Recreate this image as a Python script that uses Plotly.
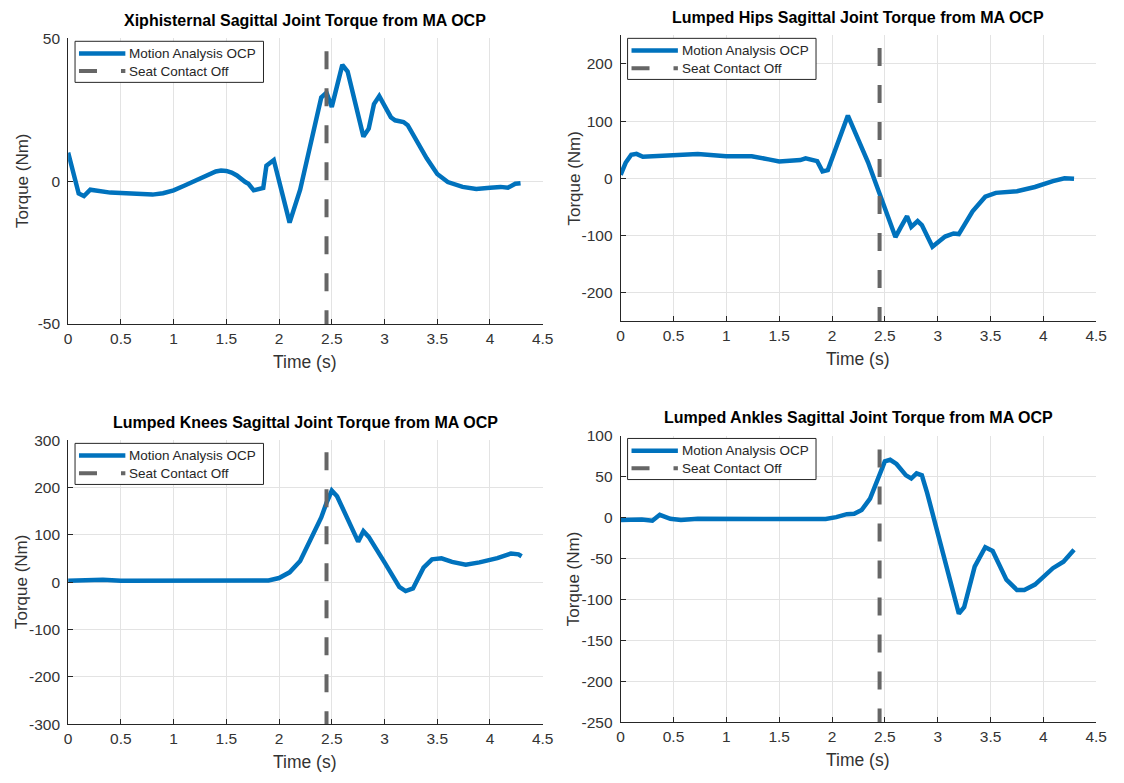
import plotly.graph_objects as go

# ---- time series (s, Nm) ----
t_xiph = [0, 0.1, 0.15, 0.21, 0.4, 0.6, 0.8, 0.9, 1.0, 1.1, 1.2, 1.3, 1.4, 1.45, 1.5, 1.55, 1.6, 1.68,
          1.71, 1.76, 1.85, 1.88, 1.95, 2.1, 2.2, 2.4, 2.45, 2.5, 2.6, 2.65, 2.8, 2.85, 2.9, 2.95,
          3.06, 3.1, 3.18, 3.22, 3.33, 3.4, 3.5, 3.6, 3.74, 3.87, 4.0, 4.1, 4.17, 4.24, 4.29]
tau_xiph = [10, -4.3, -5.2, -3, -4, -4.5, -4.7, -4.2, -3.2, -1.6, 0.2, 1.9, 3.4, 3.7, 3.6, 3, 2, -0.3,
            -0.9, -3.2, -2.4, 5.4, 7.4, -14.5, -3, 29.3, 31, 26, 40.7, 38.4, 15.6, 18.4, 27, 29.8,
            22.4, 21.3, 20.7, 19.6, 12.2, 8, 2.5, -0.3, -2, -2.7, -2.3, -2, -2.3, -0.9, -0.7]

t_hip = [0, 0.047, 0.1, 0.15, 0.21, 0.4, 0.73, 1.0, 1.24, 1.4, 1.5, 1.7, 1.75, 1.86, 1.91, 1.96,
         2.15, 2.34, 2.45, 2.6, 2.65, 2.71, 2.75, 2.81, 2.85, 2.95, 3.07, 3.15, 3.2, 3.33, 3.45,
         3.55, 3.75, 3.92, 4.09, 4.2, 4.29]
tau_hip = [6, 27, 41, 42.6, 37.5, 40, 42.6, 38.6, 38.6, 33, 29.5, 31.8, 34.7, 30, 12, 14.2,
           109.7, 28.4, -29.5, -103, -86, -66.5, -85, -75, -82, -120, -102, -96.6, -97.7, -58, -32.4,
           -25.6, -22.7, -15.3, -5, 0, -1]

t_knee = [0, 0.33, 0.5, 1.4, 1.9, 2.0, 2.1, 2.2, 2.3, 2.4, 2.45, 2.5, 2.55, 2.65, 2.75, 2.8, 2.85,
          3.0, 3.14, 3.2, 3.27, 3.37, 3.45, 3.54, 3.64, 3.77, 3.9, 4.07, 4.2, 4.27, 4.3]
tau_knee = [3.4, 5.5, 3.4, 3.4, 4, 9, 21, 45, 90, 137, 168, 194, 182, 134, 86, 108, 96,
            42, -10, -18.5, -13, 31, 48.6, 50.6, 43, 37, 42, 51, 61, 59, 55]

t_ank = [0, 0.2, 0.3, 0.37, 0.47, 0.57, 0.73, 1.4, 1.94, 2.04, 2.14, 2.21, 2.28, 2.36, 2.43, 2.5,
         2.55, 2.61, 2.7, 2.75, 2.8, 2.85, 2.9, 3.0, 3.2, 3.25, 3.35, 3.45, 3.52, 3.65, 3.75,
         3.82, 3.92, 4.09, 4.19, 4.29]
tau_ank = [-3.2, -2.4, -4, 3.2, -1.6, -3.2, -1.6, -2.4, -2, 0.4, 4, 4.4, 9, 23, 44.7, 68.4,
           70.4, 65.3, 51.4, 47.5, 53.8, 51.4, 30, -18, -117.5, -109.6, -60, -36.4, -41, -76, -88.6,
           -88.6, -82, -62, -54, -39.6]

seat_off_time = 2.45

titles = ["Xiphisternal Sagittal Joint Torque from MA OCP",
          "Lumped Hips Sagittal Joint Torque from MA OCP",
          "Lumped Knees Sagittal Joint Torque from MA OCP",
          "Lumped Ankles Sagittal Joint Torque from MA OCP"]
legend_labels = ["Motion Analysis OCP", "Seat Contact Off"]

y_limits = [(-50, 50), (-250, 250), (-300, 300), (-250, 100)]
seat_line_top = [45.5, 228, 275, 83]
y_tickvals = [[-50, 0, 50],
              [-200, -100, 0, 100, 200],
              [-300, -200, -100, 0, 100, 200, 300],
              [-250, -200, -150, -100, -50, 0, 50, 100]]
y_ticktext = [["-50", "0", "50"],
              ["-200", "-100", "0", "100", "200"],
              ["-300", "-200", "-100", "0", "100", "200", "300"],
              ["-250", "-200", "-150", "-100", "-50", "0", "50", "100"]]
x_tickvals = [0, 0.5, 1, 1.5, 2, 2.5, 3, 3.5, 4, 4.5]
x_ticktext = ["0", "0.5", "1", "1.5", "2", "2.5", "3", "3.5", "4", "4.5"]

series = [(t_xiph, tau_xiph), (t_hip, tau_hip), (t_knee, tau_knee), (t_ank, tau_ank)]

W, H = 1124, 783
FONT = "Liberation Sans, Arial, Helvetica, sans-serif"
BLUE = "#0072BD"
GREY = "#666666"
AX = "#262626"
TXT = "#333333"
SEAT_DASH = "18px,19px"

# plot areas in pixels: (left, right, top, bottom)
boxes = [(65, 546, 30, 322), (625, 1107, 27, 319), (65, 546, 441, 731), (625, 1107, 436, 729)]
# legend box offset from the plot corner and its size, in pixels
LEG_DX, LEG_DY, LEG_W, LEG_H = 7, 3, 191, 42


def px(x):
    return x / W


def py(y):
    return 1 - y / H


fig = go.Figure()
layout = dict(width=W, height=H, margin=dict(l=0, r=0, t=0, b=0),
              paper_bgcolor="white", plot_bgcolor="white", showlegend=False,
              font=dict(family=FONT, color=TXT), annotations=[], shapes=[])

for i, ((t, tau), (l, r, tp, bt)) in enumerate(zip(series, boxes)):
    n = "" if i == 0 else str(i + 1)
    fig.add_trace(go.Scatter(x=t, y=tau, mode="lines", name=legend_labels[0],
                             line=dict(color=BLUE, width=4.5), xaxis="x" + n, yaxis="y" + n))
    fig.add_trace(go.Scatter(x=[seat_off_time, seat_off_time], y=[seat_line_top[i], y_limits[i][0]],
                             mode="lines", name=legend_labels[1],
                             line=dict(color=GREY, width=4, dash=SEAT_DASH),
                             xaxis="x" + n, yaxis="y" + n))
    common = dict(showgrid=True, gridcolor="#e3e3e3", gridwidth=1, zeroline=False,
                  showline=True, linecolor=AX, linewidth=1, ticks="inside", ticklen=5,
                  tickcolor=AX, tickfont=dict(family=FONT, size=15.5, color=TXT))
    layout["xaxis" + n] = dict(domain=[px(l), px(r)], range=[0, 4.5], anchor="y" + n,
                               tickvals=x_tickvals, ticktext=x_ticktext, **common)
    layout["yaxis" + n] = dict(domain=[py(bt), py(tp)], range=list(y_limits[i]),
                               anchor="x" + n, tickvals=y_tickvals[i], ticktext=y_ticktext[i],
                               ticklabelstandoff=4, **common)
    cx = (l + r) / 2
    layout["annotations"] += [
        dict(text="<b>" + titles[i] + "</b>", x=px(cx), y=py(tp - 18), xref="paper",
             yref="paper", xanchor="center", yanchor="middle", showarrow=False,
             font=dict(family=FONT, size=16, color="black")),
        dict(text="Time (s)", x=px(cx), y=py(bt + 39), xref="paper", yref="paper",
             xanchor="center", yanchor="middle", showarrow=False,
             font=dict(family=FONT, size=17.5, color=TXT)),
        dict(text="Torque (Nm)", x=px(l - 47), y=py((tp + bt) / 2), xref="paper",
             yref="paper", xanchor="center", yanchor="middle", showarrow=False, textangle=-90,
             font=dict(family=FONT, size=17, color=TXT)),
    ]

    # legend box with its two entries
    lx0, ly0 = l + LEG_DX, tp + LEG_DY
    rows = [ly0 + 12.5, ly0 + 30.5]
    layout["shapes"] += [
        dict(type="rect", xref="paper", yref="paper", x0=px(lx0), x1=px(lx0 + LEG_W),
             y0=py(ly0), y1=py(ly0 + LEG_H), line=dict(color=AX, width=1), fillcolor="white",
             layer="above"),
        dict(type="line", xref="paper", yref="paper", x0=px(lx0 + 4), x1=px(lx0 + 51),
             y0=py(rows[0]), y1=py(rows[0]), line=dict(color=BLUE, width=4.5), layer="above"),
        dict(type="line", xref="paper", yref="paper", x0=px(lx0 + 4), x1=px(lx0 + 51),
             y0=py(rows[1]), y1=py(rows[1]), line=dict(color=GREY, width=4, dash="18px,24px"),
             layer="above"),
    ]
    for row, label in zip(rows, legend_labels):
        layout["annotations"].append(
            dict(text=label, x=px(lx0 + 53), y=py(row), xref="paper", yref="paper",
                 xanchor="left", yanchor="middle", showarrow=False,
                 font=dict(family=FONT, size=13.5, color=AX)))

fig.update_layout(**layout)
# the figure fills the whole page, so drop the default body margin
fig.write_html("out.html", post_script="document.body.style.margin = '0';")
